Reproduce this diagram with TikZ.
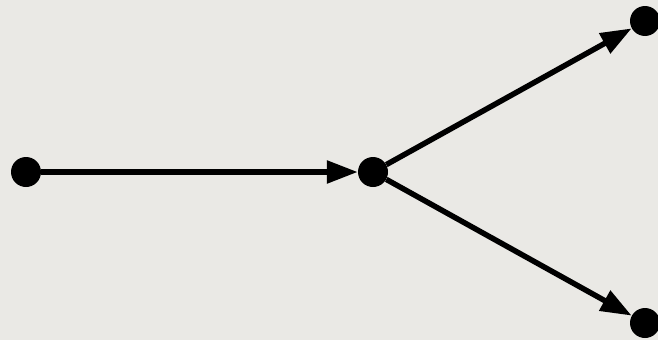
\documentclass[tikz,border=0pt]{standalone}
\usetikzlibrary{arrows.meta}
\definecolor{bgpaper}{RGB}{234,233,229}
\begin{document}
\begin{tikzpicture}[x=1pt,y=-1pt,
  dot/.style={circle,fill=black,minimum size=30pt,inner sep=0pt},
  link/.style={line width=5.5pt,-{Triangle[length=31pt,width=22pt]}}]
\fill[bgpaper] (0,0) rectangle (658,340);
\useasboundingbox (0,0) rectangle (658,340);
\node[dot] (a) at (26,172) {};
\node[dot] (b) at (373,172) {};
\node[dot] (c) at (645,21) {};
\node[dot] (d) at (645,323) {};
\draw[link] (a) -- (b);
\draw[link] (b) -- (c);
\draw[link] (b) -- (d);
\end{tikzpicture}
\end{document}
